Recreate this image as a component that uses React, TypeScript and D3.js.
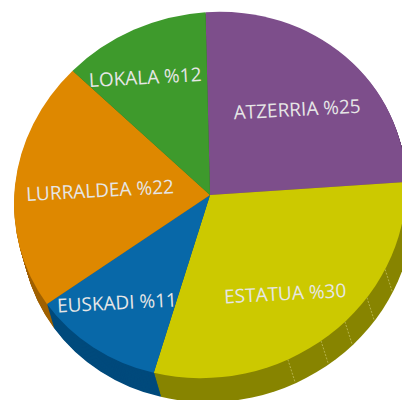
import React from 'react';
import * as d3 from 'd3';

const labels = ['ATZERRIA', 'ESTATUA', 'EUSKADI', 'LURRALDEA', 'LOKALA'];
const values = [25, 30, 11, 22, 12];
const topColors = ['#7d4e8b', '#ccc900', '#0868a8', '#de8800', '#3e9a2c'];
const sideColors = ['#5c3866', '#8f8c00', '#004a7c', '#a06200', '#2b6e1e'];

const W = 402;
const H = 400;
const cx = 210;
const cy = 195;
const rx = 196;
const ry = 183;
const skew = -0.045;
const depth = 24;
const shiftX = 7;
const startDeg = -1.3;

// nudges from the slice centroid to where each label sits
const labelDx = [6, 4, -23, 7, -19];
const labelDy = [-1, 16, 18, 3, -17];

// small highlight marks on the yellow side wall
const sideMarks = [116.7, 126.8, 136.5, 145.5, 156.6];

const pie = d3.pie<number>().sort(null)
  .startAngle((startDeg * Math.PI) / 180)
  .endAngle((startDeg * Math.PI) / 180 + 2 * Math.PI);
const arcs = pie(values);
const arc = d3.arc<d3.PieArcDatum<number>>().innerRadius(0).outerRadius(1);
const steps = d3.range(depth, 0, -1);

// unit circle to the tilted ellipse of the pie top
const tilt = (ox: number, oy: number) => `matrix(${rx},${skew * rx},0,${ry},${ox},${oy})`;
const onRim = (t: number, r = 1): [number, number] => {
  const x = r * rx * Math.sin(t);
  return [cx + x, cy - r * ry * Math.cos(t) + skew * x];
};

export default function App() {
  return (
    <svg width={W} height={H} style={{ position: 'absolute', left: 0, top: 0 }}>
      <defs>
        <linearGradient id="olive" gradientUnits="userSpaceOnUse" x1="160" y1="0" x2="402" y2="0">
          <stop offset="0" stopColor="#878400" />
          <stop offset="1" stopColor="#a8a400" />
        </linearGradient>
      </defs>
      {steps.map(s => (
        <g key={s} transform={tilt(cx + (shiftX * s) / depth, cy + s)}>
          {arcs.map((d, i) => (
            <path key={i} d={arc(d) || ''} fill={i === 1 ? 'url(#olive)' : sideColors[i]} />
          ))}
        </g>
      ))}
      {sideMarks.map(a => {
        const [x, y] = onRim((a * Math.PI) / 180);
        return (
          <line key={a} x1={x} y1={y} x2={x + shiftX} y2={y + depth - 2}
            stroke="#c8c66a" strokeWidth={0.7} strokeDasharray="2 1.5" />
        );
      })}
      <g transform={tilt(cx, cy)}>
        {arcs.map((d, i) => (
          <path key={i} d={arc(d) || ''} fill={topColors[i]} />
        ))}
      </g>
      {arcs.map((d, i) => {
        const [mx, my] = onRim((d.startAngle + d.endAngle) / 2, 0.6);
        const x = mx + labelDx[i];
        const y = my + labelDy[i];
        return (
          <text key={i} x={x} y={y} textAnchor="middle" dominantBaseline="middle"
            transform={`rotate(-3 ${x} ${y})`} fill="#e6e6e6"
            style={{ fontFamily: '"Open Sans", sans-serif', fontSize: 19 }}>
            {`${labels[i]} %${values[i]}`}
          </text>
        );
      })}
    </svg>
  );
}
